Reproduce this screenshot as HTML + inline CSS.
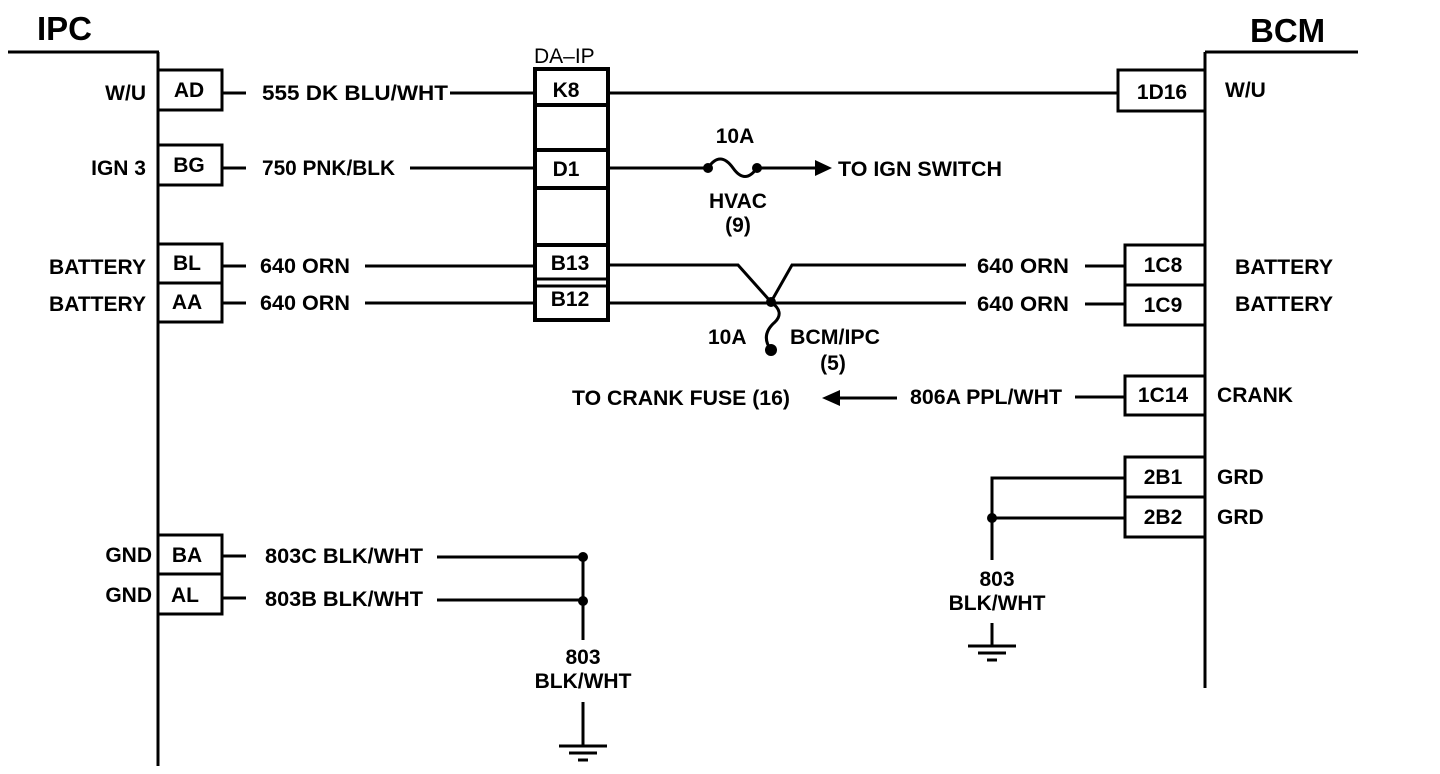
<!DOCTYPE html>
<html><head><style>
html,body{margin:0;padding:0;background:#fff;}
svg{display:block;}
text{font-family:"Liberation Sans",Arial,sans-serif;font-size:21px;font-weight:bold;fill:#000;}
</style></head><body>
<svg width="1440" height="774" viewBox="0 0 1440 774" xmlns="http://www.w3.org/2000/svg">
<g stroke="#000" stroke-width="3" fill="none">
<line x1="8" y1="52" x2="159" y2="52"/>
<line x1="158" y1="52" x2="158" y2="766"/>
<rect x="158" y="70" width="64" height="40"/>
<rect x="158" y="145" width="64" height="40"/>
<rect x="158" y="244" width="64" height="39"/>
<rect x="158" y="283" width="64" height="39"/>
<rect x="158" y="535" width="64" height="39"/>
<rect x="158" y="574" width="64" height="40"/>
<line x1="1205" y1="52" x2="1358" y2="52"/>
<line x1="1205" y1="52" x2="1205" y2="688"/>
<rect x="1118" y="70" width="87" height="41"/>
<rect x="1125" y="245" width="80" height="40"/>
<rect x="1125" y="285" width="80" height="40"/>
<rect x="1125" y="376" width="80" height="39"/>
<rect x="1125" y="457" width="80" height="40"/>
<rect x="1125" y="497" width="80" height="40"/>
<rect x="535" y="69" width="73" height="251" stroke-width="4"/>
<line x1="537" y1="105" x2="606" y2="105" stroke-width="4"/>
<line x1="537" y1="150" x2="606" y2="150" stroke-width="4"/>
<line x1="537" y1="188" x2="606" y2="188" stroke-width="4"/>
<line x1="537" y1="245" x2="606" y2="245" stroke-width="4"/>
<line x1="537" y1="279" x2="606" y2="279" stroke-width="3"/>
<line x1="537" y1="286" x2="606" y2="286" stroke-width="3"/>
<line x1="222" y1="93" x2="246" y2="93"/>
<line x1="450" y1="93" x2="537" y2="93"/>
<line x1="608" y1="93" x2="1118" y2="93"/>
<line x1="222" y1="168" x2="246" y2="168"/>
<line x1="410" y1="168" x2="537" y2="168"/>
<line x1="608" y1="168" x2="708" y2="168"/>
<path d="M708 168 Q720 150 733 168 Q745 185 757 168"/>
<line x1="757" y1="168" x2="820" y2="168"/>
<line x1="222" y1="266" x2="246" y2="266"/>
<line x1="365" y1="266" x2="537" y2="266"/>
<line x1="222" y1="303" x2="246" y2="303"/>
<line x1="365" y1="303" x2="537" y2="303"/>
<polyline points="608,265 738,265 771,302 792,265 966,265"/>
<line x1="608" y1="303" x2="966" y2="303"/>
<path d="M771 302 Q785 312 775 322 Q760 335 771 350"/>
<line x1="1085" y1="266" x2="1125" y2="266"/>
<line x1="1085" y1="304" x2="1125" y2="304"/>
<line x1="838" y1="398" x2="897" y2="398"/>
<line x1="1075" y1="397" x2="1125" y2="397"/>
<polyline points="1125,478 992,478 992,560"/>
<line x1="992" y1="518" x2="1125" y2="518"/>
<line x1="992" y1="623" x2="992" y2="645"/>
<line x1="968" y1="646" x2="1016" y2="646"/>
<line x1="978" y1="653" x2="1006" y2="653"/>
<line x1="987" y1="660" x2="997" y2="660"/>
<line x1="222" y1="556" x2="246" y2="556"/>
<line x1="437" y1="557" x2="583" y2="557"/>
<line x1="222" y1="598" x2="246" y2="598"/>
<line x1="437" y1="600" x2="583" y2="600"/>
<line x1="583" y1="557" x2="583" y2="640"/>
<line x1="583" y1="702" x2="583" y2="745"/>
<line x1="559" y1="746" x2="607" y2="746"/>
<line x1="569" y1="753" x2="597" y2="753"/>
<line x1="578" y1="760" x2="588" y2="760"/>
</g>
<g fill="#000">
<circle cx="708" cy="168" r="5"/><circle cx="757" cy="168" r="5"/>
<polygon points="815,160 832,168 815,176"/>
<circle cx="771" cy="302" r="5"/><circle cx="771" cy="350" r="6"/>
<polygon points="822,398 840,390 840,406"/>
<circle cx="992" cy="518" r="5"/>
<circle cx="583" cy="557" r="5"/><circle cx="583" cy="601" r="5"/>
</g>
<text x="37" y="40" style="font-size:33px">IPC</text>
<text x="1250" y="42" style="font-size:33px">BCM</text>
<text x="534" y="63" style="font-weight:normal">DA–IP</text>
<g text-anchor="end">
<text x="146" y="100">W/U</text>
<text x="146" y="175">IGN 3</text>
<text x="146" y="274" textLength="97" lengthAdjust="spacingAndGlyphs">BATTERY</text>
<text x="146" y="311" textLength="97" lengthAdjust="spacingAndGlyphs">BATTERY</text>
<text x="152" y="562">GND</text>
<text x="152" y="602">GND</text>
</g>
<g text-anchor="middle">
<text x="189" y="97">AD</text>
<text x="189" y="172">BG</text>
<text x="187" y="270">BL</text>
<text x="187" y="309">AA</text>
<text x="187" y="562">BA</text>
<text x="185" y="602">AL</text>
<text x="566" y="97">K8</text>
<text x="566" y="176">D1</text>
<text x="570" y="270">B13</text>
<text x="570" y="306">B12</text>
<text x="1162" y="99">1D16</text>
<text x="1163" y="272">1C8</text>
<text x="1163" y="312">1C9</text>
<text x="1163" y="402">1C14</text>
<text x="1163" y="484">2B1</text>
<text x="1163" y="524">2B2</text>
<text x="735" y="143">10A</text>
<text x="738" y="208">HVAC</text>
<text x="738" y="232">(9)</text>
<text x="833" y="370">(5)</text>
<text x="997" y="586">803</text>
<text x="997" y="610">BLK/WHT</text>
<text x="583" y="664">803</text>
<text x="583" y="688">BLK/WHT</text>
</g>
<text x="262" y="100" textLength="186" lengthAdjust="spacingAndGlyphs">555 DK BLU/WHT</text>
<text x="262" y="175" textLength="133" lengthAdjust="spacingAndGlyphs">750 PNK/BLK</text>
<text x="260" y="273" textLength="90" lengthAdjust="spacingAndGlyphs">640 ORN</text>
<text x="260" y="310" textLength="90" lengthAdjust="spacingAndGlyphs">640 ORN</text>
<text x="265" y="563" textLength="158" lengthAdjust="spacingAndGlyphs">803C  BLK/WHT</text>
<text x="265" y="606" textLength="158" lengthAdjust="spacingAndGlyphs">803B  BLK/WHT</text>
<text x="838" y="176" textLength="164" lengthAdjust="spacingAndGlyphs">TO IGN SWITCH</text>
<text x="977" y="273" textLength="92" lengthAdjust="spacingAndGlyphs">640 ORN</text>
<text x="977" y="311" textLength="92" lengthAdjust="spacingAndGlyphs">640 ORN</text>
<text x="708" y="344">10A</text>
<text x="790" y="344" textLength="90" lengthAdjust="spacingAndGlyphs">BCM/IPC</text>
<text x="572" y="405" textLength="218" lengthAdjust="spacingAndGlyphs">TO CRANK FUSE (16)</text>
<text x="910" y="404" textLength="152" lengthAdjust="spacingAndGlyphs">806A PPL/WHT</text>
<text x="1225" y="97">W/U</text>
<text x="1235" y="274" textLength="98" lengthAdjust="spacingAndGlyphs">BATTERY</text>
<text x="1235" y="311" textLength="98" lengthAdjust="spacingAndGlyphs">BATTERY</text>
<text x="1217" y="402" textLength="76" lengthAdjust="spacingAndGlyphs">CRANK</text>
<text x="1217" y="484">GRD</text>
<text x="1217" y="524">GRD</text>
</svg>
</body></html>
